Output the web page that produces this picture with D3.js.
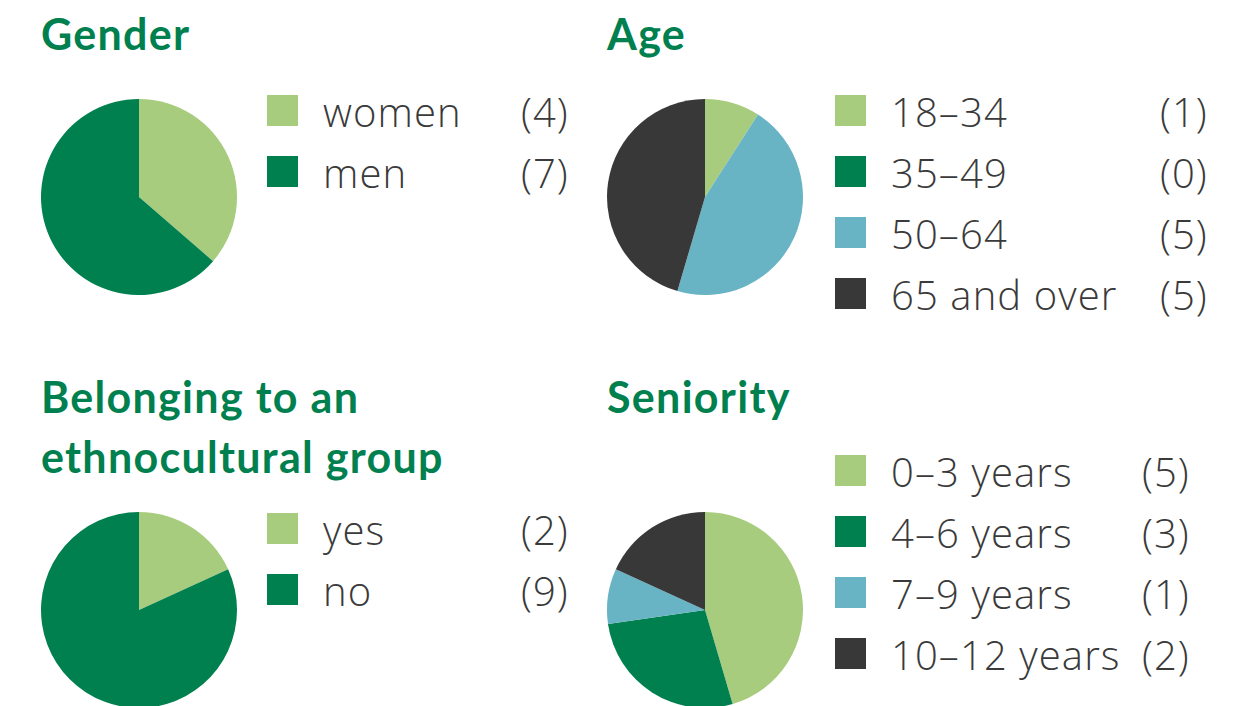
<!DOCTYPE html>
<html>
<head>
<meta charset="utf-8">
<script src="https://cdn.jsdelivr.net/npm/d3@7"></script>
<style>
    body { margin: 0; background: #fff; }
    .title { font-family: Lato, "Open Sans", sans-serif; font-weight: 700; fill: #00804f; }
    .legend-text { font-family: "Open Sans", Lato, sans-serif; font-weight: 300; fill: #3a3a3a; }
</style>
</head>
<body>
<script>
// Chart data
const genderLabels = ["women", "men"];
const genderValues = [4, 7];

const ageLabels = ["18\u201334", "35\u201349", "50\u201364", "65 and over"];
const ageValues = [1, 0, 5, 5];

const ethnoLabels = ["yes", "no"];
const ethnoValues = [2, 9];

const seniorityLabels = ["0\u20133 years", "4\u20136 years", "7\u20139 years", "10\u201312 years"];
const seniorityValues = [5, 3, 1, 2];

const COLORS = ["#a8cc7e", "#00804f", "#68b4c5", "#383838"];

const WIDTH = 1255, HEIGHT = 706;
const RADIUS = 98;
const ROW_STEP = 61;
const SWATCH = 31;

// One entry per panel: where the title, pie and legend go
const panels = [
    { title: ["Gender"], labels: genderLabels, values: genderValues,
      titleX: 41, titleY: 50, cx: 139, cy: 197, legX: 267, legY: 95, countX: 521 },
    { title: ["Age"], labels: ageLabels, values: ageValues,
      titleX: 607, titleY: 50, cx: 705, cy: 197, legX: 835, legY: 95, countX: 1160 },
    { title: ["Belonging to an", "ethnocultural group"], labels: ethnoLabels, values: ethnoValues,
      titleX: 41, titleY: 413, cx: 139, cy: 610, legX: 267, legY: 513, countX: 521 },
    { title: ["Seniority"], labels: seniorityLabels, values: seniorityValues,
      titleX: 607, titleY: 413, cx: 705, cy: 610, legX: 835, legY: 455, countX: 1142 }
];

const svg = d3.select("body").append("svg")
    .attr("width", WIDTH)
    .attr("height", HEIGHT);

const pie = d3.pie().sort(null).value(d => d);
const arc = d3.arc().innerRadius(0).outerRadius(RADIUS);

panels.forEach(p => {
    const g = svg.append("g");

    // Title, possibly on two lines
    g.append("text")
        .attr("class", "title")
        .attr("font-size", 43)
        .attr("letter-spacing", 1.3)
        .selectAll("tspan")
        .data(p.title)
        .join("tspan")
        .attr("x", p.titleX)
        .attr("y", (d, i) => p.titleY + i * 60)
        .text(d => d);

    // Pie
    g.append("g")
        .attr("transform", `translate(${p.cx},${p.cy})`)
        .selectAll("path")
        .data(pie(p.values))
        .join("path")
        .attr("d", arc)
        .attr("fill", (d, i) => COLORS[i]);

    // Legend rows
    const rows = g.selectAll(".row")
        .data(p.labels)
        .join("g")
        .attr("class", "row")
        .attr("transform", (d, i) => `translate(0,${p.legY + i * ROW_STEP})`);

    rows.append("rect")
        .attr("x", p.legX)
        .attr("y", 0)
        .attr("width", SWATCH)
        .attr("height", SWATCH)
        .attr("fill", (d, i) => COLORS[i]);

    rows.append("text")
        .attr("class", "legend-text")
        .attr("x", p.legX + 56)
        .attr("y", 32)
        .attr("font-size", 40)
        .attr("letter-spacing", 1.1)
        .text(d => d);

    rows.append("text")
        .attr("class", "legend-text")
        .attr("x", p.countX)
        .attr("y", 32)
        .attr("font-size", 40)
        .attr("letter-spacing", 1)
        .text((d, i) => `(${p.values[i]})`);
});
</script>
</body>
</html>
